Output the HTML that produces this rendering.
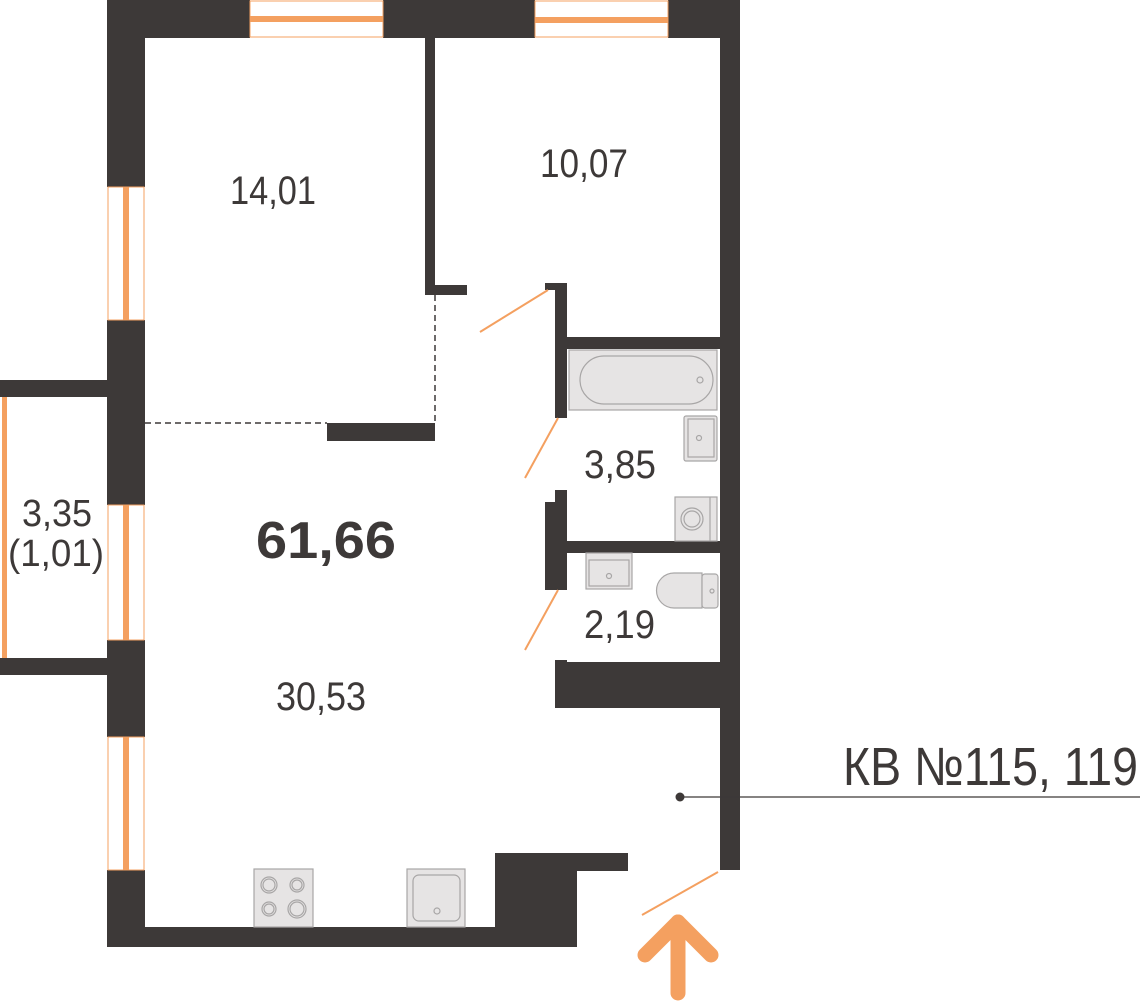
<!DOCTYPE html>
<html><head><meta charset="utf-8"><style>
html,body{margin:0;padding:0;background:#fff;}
svg{display:block}
text{font-family:"Liberation Sans",sans-serif;fill:#3d3938;}
</style></head><body>
<svg width="1140" height="1001" viewBox="0 0 1140 1001" xmlns="http://www.w3.org/2000/svg">
<g fill="#3d3938">
<rect x="107" y="0" width="143" height="38"/>
<rect x="383" y="0" width="152" height="38"/>
<rect x="668" y="0" width="72" height="38"/>
<rect x="720" y="0" width="20" height="870"/>
<rect x="107" y="0" width="38" height="187"/>
<rect x="107" y="320" width="38" height="185"/>
<rect x="107" y="640" width="38" height="97"/>
<rect x="107" y="870" width="38" height="77"/>
<rect x="107" y="927" width="470" height="20"/>
<rect x="495" y="853" width="82" height="94"/>
<rect x="577" y="853" width="51" height="18"/>
<rect x="425" y="38" width="10" height="257"/>
<rect x="425" y="285" width="42" height="10"/>
<rect x="555" y="283" width="12" height="135"/>
<rect x="545" y="283" width="22" height="7"/>
<rect x="567" y="337" width="153" height="12"/>
<rect x="327" y="423" width="108" height="18"/>
<rect x="555" y="490" width="12" height="100"/>
<rect x="545" y="502" width="12" height="88"/>
<rect x="567" y="541" width="153" height="12"/>
<rect x="555" y="662" width="165" height="46"/>
<rect x="555" y="660" width="12" height="4"/>
<rect x="0" y="380" width="107" height="17"/>
<rect x="0" y="658" width="107" height="17"/>
</g>
<g fill="#fff" stroke="#f4a060" stroke-width="1">
<rect x="250" y="1" width="133" height="36"/>
<rect x="535" y="1" width="133" height="36"/>
<rect x="108" y="187" width="36" height="133"/>
<rect x="108" y="505" width="36" height="135"/>
<rect x="108" y="737" width="36" height="133"/>
</g>
<g fill="#f4a060">
<rect x="250" y="16" width="133" height="6"/>
<rect x="535" y="17" width="133" height="6"/>
<rect x="123" y="187" width="6" height="133"/>
<rect x="123" y="505" width="6" height="135"/>
<rect x="123" y="737" width="6" height="133"/>
<rect x="2" y="397" width="5" height="261"/>
</g>
<g stroke="#3d3938" stroke-width="1.5" stroke-dasharray="6,4" fill="none">
<line x1="435" y1="295" x2="435" y2="423"/>
<line x1="145" y1="423" x2="327" y2="423"/>
</g>
<g stroke="#f4a060" stroke-width="2">
<line x1="480" y1="332" x2="548" y2="290"/>
<line x1="525" y1="478" x2="558" y2="418"/>
<line x1="525" y1="650" x2="558" y2="590"/>
<line x1="642" y1="915" x2="718" y2="872"/>
</g>
<g stroke="#f4a060" stroke-width="15" stroke-linecap="round" stroke-linejoin="round" fill="none">
<line x1="678" y1="922" x2="678" y2="993"/>
<polyline points="645,955 678,922 711,955"/>
</g>
<g fill="#e6e4e4" stroke="#a8a6a6" stroke-width="1.2">
<rect x="569" y="350" width="148" height="60"/>
<rect x="580" y="356" width="133" height="48" rx="24"/>
<circle cx="700" cy="380" r="3" fill="none"/>
<rect x="684" y="416" width="33" height="45" rx="2"/>
<rect x="688" y="419" width="26" height="38" fill="none"/>
<circle cx="699" cy="438" r="2.5" fill="none"/>
<rect x="675" y="497" width="42" height="44"/>
<line x1="710" y1="497" x2="710" y2="541"/>
<circle cx="692" cy="519" r="11" fill="none"/>
<circle cx="692" cy="519" r="8" fill="none"/>
<rect x="586" y="553" width="46" height="36"/>
<rect x="589" y="560" width="40" height="26" fill="none"/>
<circle cx="609" cy="576" r="2.5" fill="none"/>
<path d="M674,573 H702 V608 H674 A17.5,17.5 0 0 1 674,573 Z"/>
<rect x="702" y="574" width="16" height="34" rx="3"/>
<circle cx="712" cy="591" r="2" fill="none"/>
<rect x="254" y="869" width="59" height="58"/>
<circle cx="269" cy="885" r="8" fill="none"/><circle cx="269" cy="885" r="6" fill="none"/>
<circle cx="297" cy="885" r="7" fill="none"/><circle cx="297" cy="885" r="5" fill="none"/>
<circle cx="269" cy="909" r="7" fill="none"/><circle cx="269" cy="909" r="5" fill="none"/>
<circle cx="297" cy="909" r="9" fill="none"/><circle cx="297" cy="909" r="7" fill="none"/>
<rect x="407" y="869" width="58" height="58"/>
<rect x="413" y="875" width="47" height="46" rx="6" fill="none"/>
<circle cx="437" cy="911" r="3" fill="none"/>
</g>
<line x1="680" y1="797" x2="1140" y2="797" stroke="#3d3938" stroke-width="1.2"/>
<circle cx="680" cy="797" r="4.5" fill="#3d3938"/>
<text x="843" y="785" font-size="54" textLength="295" lengthAdjust="spacingAndGlyphs">КВ №115, 119</text>
<text x="230" y="204" font-size="40" textLength="86" lengthAdjust="spacingAndGlyphs">14,01</text>
<text x="540" y="177" font-size="40" textLength="88" lengthAdjust="spacingAndGlyphs">10,07</text>
<text x="256" y="558" font-size="52" font-weight="bold" textLength="140" lengthAdjust="spacingAndGlyphs">61,66</text>
<text x="276" y="710" font-size="40" textLength="90" lengthAdjust="spacingAndGlyphs">30,53</text>
<text x="584" y="478" font-size="40" textLength="72" lengthAdjust="spacingAndGlyphs">3,85</text>
<text x="584" y="638" font-size="40" textLength="71" lengthAdjust="spacingAndGlyphs">2,19</text>
<text x="22" y="526" font-size="38" textLength="70" lengthAdjust="spacingAndGlyphs">3,35</text>
<text x="8" y="566" font-size="38" textLength="96" lengthAdjust="spacingAndGlyphs">(1,01)</text>
</svg>
</body></html>
